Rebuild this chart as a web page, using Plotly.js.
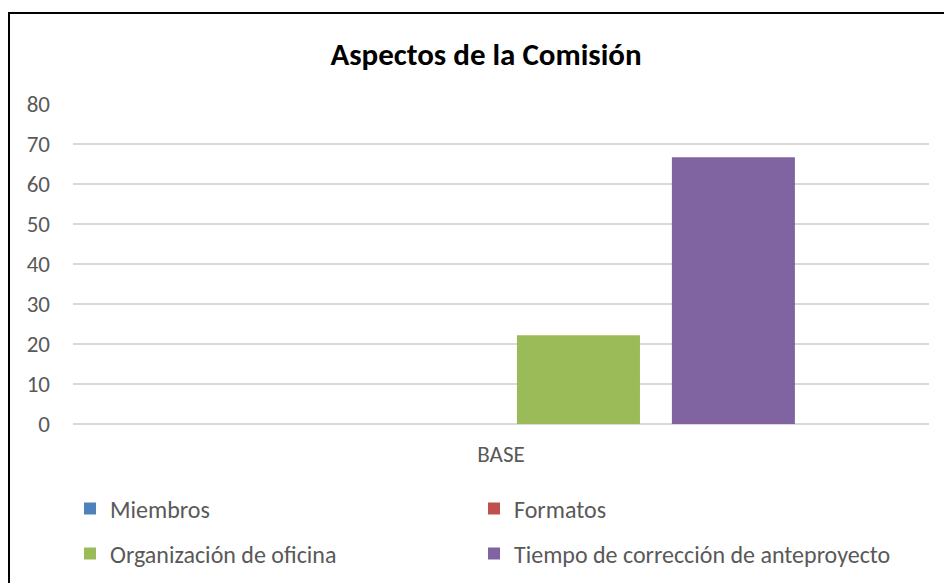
<!DOCTYPE html>
<html>
<head>
<meta charset="utf-8">
<script src="https://cdn.plot.ly/plotly-3.0.1.min.js"></script>
<style>
  html, body { margin: 0; padding: 0; background: #fff; }
  #wrap { position: relative; width: 944px; height: 583px; overflow: hidden; }
  #chart { position: absolute; left: 0; top: 0; width: 944px; height: 583px; }
  #frame { position: absolute; left: 8px; top: 12px; width: 1000px; height: 700px;
           border: 2px solid #000; box-sizing: border-box; pointer-events: none; }
</style>
</head>
<body>
<div id="wrap">
  <div id="chart"></div>
  <div id="frame"></div>
</div>
<script>
// Data
const categories = ["BASE"];
const seriesNames = ["Miembros", "Formatos", "Organización de oficina", "Tiempo de corrección de anteproyecto"];
const miembros = [0];
const formatos = [0];
const organizacion = [22.2];
const tiempo = [66.7];
const seriesColors = ["#4f81bd", "#c0504d", "#9bbb59", "#8064a2"];
const seriesValues = [miembros, formatos, organizacion, tiempo];
const seriesLegends = ["legend", "legend2", "legend3", "legend4"];

const FONT = "Carlito, Lato, 'Open Sans', sans-serif";
const GRAY = "#595959";

const traces = seriesNames.map((name, i) => ({
  type: "bar",
  name: name,
  x: categories,
  y: seriesValues[i],
  marker: { color: seriesColors[i] },
  legend: seriesLegends[i],
  hoverinfo: "name+y"
}));

const H = 583, W = 944;

const legendCommon = {
  orientation: "h",
  xref: "container",
  yref: "container",
  xanchor: "left",
  yanchor: "middle",
  itemwidth: 30,
  font: { family: FONT, size: 24, color: GRAY },
  bgcolor: "rgba(0,0,0,0)",
  traceorder: "normal"
};

const col1 = 70, col2 = 474, row1 = 509, row2 = 554;

const layout = {
  width: W,
  height: H,
  paper_bgcolor: "#ffffff",
  plot_bgcolor: "#ffffff",
  margin: { l: 73, r: 15, t: 103, b: 159, autoexpand: false },
  barmode: "group",
  bargap: 0.276,
  bargroupgap: 0.206,
  title: {
    text: "<b>Aspectos de la Comisión</b>",
    font: { family: FONT, size: 31, color: "#000000" },
    x: 486 / W,
    xref: "container",
    xanchor: "center",
    y: 1 - 54 / H,
    yref: "container",
    yanchor: "middle"
  },
  xaxis: {
    type: "category",
    showgrid: false,
    showline: false,
    ticks: "",
    ticklabelstandoff: 14,
    tickfont: { family: FONT, size: 23, color: GRAY }
  },
  yaxis: {
    range: [0, 80.25],
    dtick: 10,
    tick0: 0,
    showgrid: true,
    gridcolor: "#d9d9d9",
    gridwidth: 2,
    zeroline: true,
    zerolinecolor: "#d9d9d9",
    zerolinewidth: 2,
    showline: false,
    ticks: "",
    ticklabelstandoff: 22,
    tickfont: { family: FONT, size: 23, color: GRAY }
  },
  legend: Object.assign({}, legendCommon, { x: col1 / W, y: 1 - row1 / H }),
  legend2: Object.assign({}, legendCommon, { x: col2 / W, y: 1 - row1 / H }),
  legend3: Object.assign({}, legendCommon, { x: col1 / W, y: 1 - row2 / H }),
  legend4: Object.assign({}, legendCommon, { x: col2 / W, y: 1 - row2 / H }),
  showlegend: true
};

Plotly.newPlot("chart", traces, layout, { displayModeBar: false, staticPlot: true });
</script>
</body>
</html>
